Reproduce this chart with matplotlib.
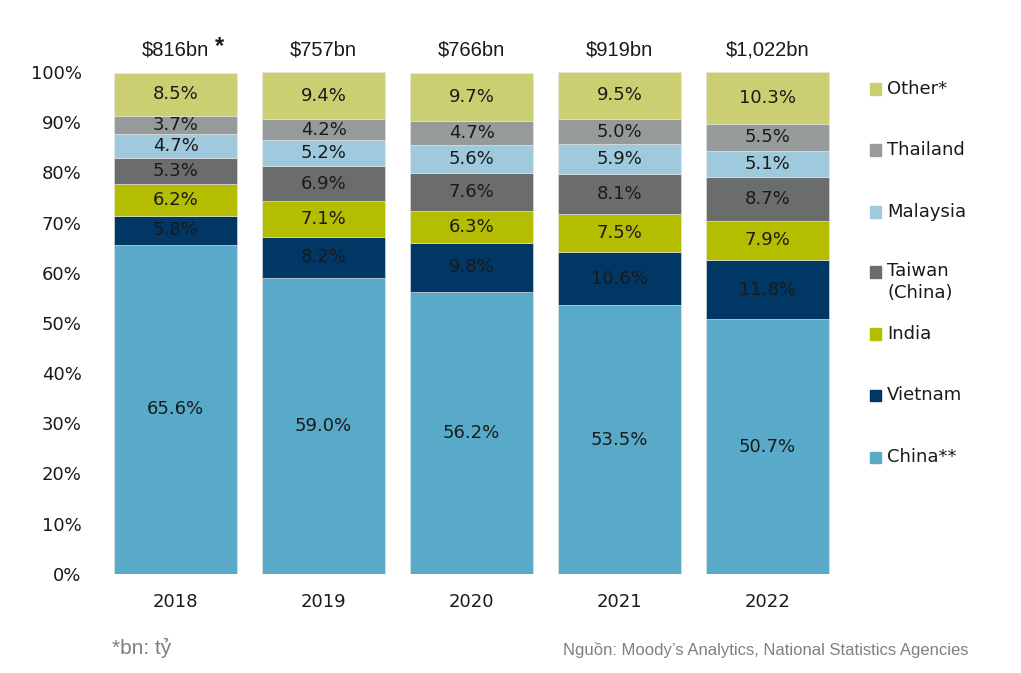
import numpy as np
import matplotlib
matplotlib.use("Agg")
import matplotlib.pyplot as plt
from matplotlib.patches import Rectangle


years = ["2018", "2019", "2020", "2021", "2022"]
totals = ["$816bn", "$757bn", "$766bn", "$919bn", "$1,022bn"]

# shares in %, bottom -> top
china = [65.6, 59.0, 56.2, 53.5, 50.7]
vietnam = [5.8, 8.2, 9.8, 10.6, 11.8]
india = [6.2, 7.1, 6.3, 7.5, 7.9]
taiwan = [5.3, 6.9, 7.6, 8.1, 8.7]
malaysia = [4.7, 5.2, 5.6, 5.9, 5.1]
thailand = [3.7, 4.2, 4.7, 5.0, 5.5]
other = [8.5, 9.4, 9.7, 9.5, 10.3]

series_names = ["China**", "Vietnam", "India", "Taiwan\n(China)", "Malaysia", "Thailand", "Other*"]
series_values = [china, vietnam, india, taiwan, malaysia, thailand, other]
series_colors = ["#58aac8", "#003764", "#b5bd00", "#6b6c6c", "#9fc9dc", "#979a9b", "#cbcf72"]

FONT = ["DejaVu Sans"]
ARIAL = ["Liberation Sans", "DejaVu Sans"]
TXT = "#1a1a1a"


def main():
    plt.rcParams["font.family"] = FONT
    fig = plt.figure(figsize=(10.21, 6.73), dpi=100)
    ax = fig.add_axes([0.0922, 0.1475, 0.7393, 0.7455])

    x = np.arange(len(years))
    bottom = np.zeros(len(years))
    for name, vals, col in zip(series_names, series_values, series_colors):
        vals = np.array(vals)
        ax.bar(x, vals, width=0.831, bottom=bottom, color=col,
               edgecolor="#e6e6e6", linewidth=0.4)
        for xi, b, v in zip(x, bottom, vals):
            ax.text(xi, b + v / 2, f"{v:.1f}%", ha="center", va="center",
                    fontsize=13, color=TXT)
        bottom += vals

    for xi, t in zip(x, totals):
        ax.text(xi, 104.3, t, ha="center", va="center", fontsize=14.5,
                color=TXT, family=ARIAL)
    ax.annotate("*", xy=(x[0], 104.3), xytext=(32, 3), textcoords="offset points",
                ha="center", va="center", fontsize=17, fontweight="bold",
                color=TXT, family=ARIAL, annotation_clip=False)

    ax.set_xlim(-0.55, 4.55)
    ax.set_ylim(0, 100)
    ax.set_xticks(x)
    ax.set_xticklabels(years)
    ax.set_yticks(np.arange(0, 101, 10))
    ax.set_yticklabels([f"{v}%" for v in range(0, 101, 10)])
    ax.tick_params(axis="both", length=0, labelsize=13, colors=TXT)
    ax.tick_params(axis="y", pad=9)
    ax.tick_params(axis="x", pad=14)
    for s in ax.spines.values():
        s.set_visible(False)

    # legend, top to bottom
    W, H = 1021, 673
    ys = [89, 150, 212, 272, 334, 395, 457]
    for name, col, yy in zip(series_names[::-1], series_colors[::-1], ys):
        fig.patches.append(Rectangle((870 / W, (H - yy - 5.5) / H), 11 / W, 11 / H,
                                     transform=fig.transFigure, color=col))
        if "\n" in name:
            fig.text(887 / W, (H - yy + 10) / H, name, ha="left", va="top",
                     fontsize=13, color=TXT, linespacing=1.3)
        else:
            fig.text(887 / W, (H - yy) / H, name, ha="left", va="center",
                     fontsize=13, color=TXT)

    fig.text(112 / W, (H - 648) / H, "*bn: tỷ", ha="left", va="center",
             fontsize=15, color="#808080", family=ARIAL)
    fig.text(968 / W, (H - 650) / H, "Nguồn: Moody’s Analytics, National Statistics Agencies",
             ha="right", va="center", fontsize=12, color="#808080", family=ARIAL)

    fig.savefig("out.png", dpi=100, facecolor="white")
    plt.close(fig)


if __name__ == "__main__":
    main()
